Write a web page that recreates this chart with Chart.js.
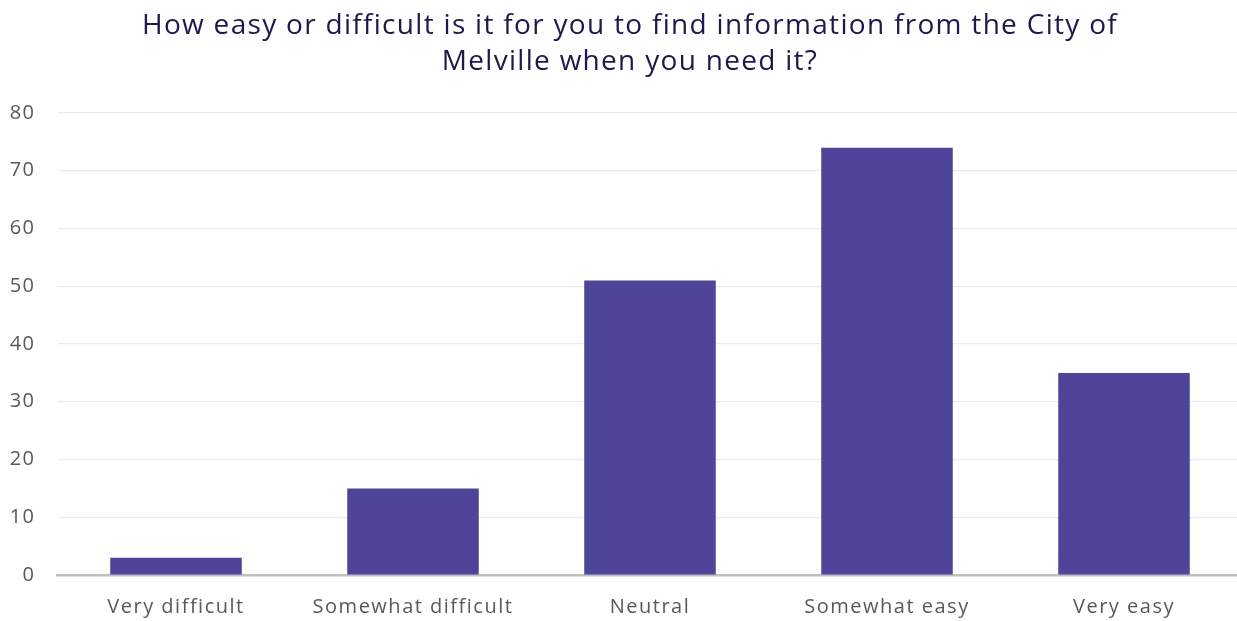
<!DOCTYPE html>
<html>
<head>
<meta charset="utf-8">
<script src="https://cdn.jsdelivr.net/npm/chart.js@4/dist/chart.umd.min.js"></script>
<style>
  html, body { margin: 0; padding: 0; background: #ffffff; overflow: hidden; }
  #wrap { width: 1260px; height: 621px; position: relative; }
</style>
</head>
<body>
<div id="wrap"><canvas id="chart"></canvas></div>
<script>
// Survey responses
const categories = ['Very difficult', 'Somewhat difficult', 'Neutral', 'Somewhat easy', 'Very easy'];
const responses = [3, 15, 51, 74, 35];
const titleLines = ['How easy or difficult is it for you to find information from the City of', 'Melville when you need it?'];

// Slightly open tracking for the axis labels
const trackingPlugin = {
  id: 'tracking',
  beforeDraw(chart) { chart.ctx.letterSpacing = '1.5px'; }
};

// Two-line heading, centred on the canvas
const headingPlugin = {
  id: 'heading',
  afterDraw(chart) {
    const ctx = chart.ctx;
    ctx.save();
    ctx.letterSpacing = '1.3px';
    ctx.fillStyle = '#1b1a4a';
    ctx.font = '28px "Open Sans", sans-serif';
    ctx.textAlign = 'center';
    ctx.textBaseline = 'alphabetic';
    const cx = chart.width / 2;
    titleLines.forEach((line, i) => ctx.fillText(line, cx, 34 + i * 36));
    ctx.restore();
  }
};

new Chart(document.getElementById('chart'), {
  type: 'bar',
  data: {
    labels: categories,
    datasets: [{
      data: responses,
      backgroundColor: '#4e4499',
      borderWidth: 0,
      categoryPercentage: 1.0,
      barPercentage: 0.555
    }]
  },
  options: {
    responsive: true,
    maintainAspectRatio: false,
    animation: false,
    layout: { padding: { top: 113, right: 17.5, bottom: 0, left: 0 } },
    plugins: {
      legend: { display: false },
      title: { display: false },
      tooltip: { enabled: false }
    },
    scales: {
      x: {
        grid: { display: false, drawTicks: false },
        border: { display: true, color: '#bfbfbf', width: 2.5 },
        ticks: {
          color: '#595959',
          font: { family: '"Open Sans", sans-serif', size: 20 },
          padding: 20,
          maxRotation: 0,
          autoSkip: false
        },
        afterFit(axis) { axis.height = 46; }
      },
      y: {
        min: 0,
        max: 80,
        grid: { color: '#ebebeb', lineWidth: 1.2, drawTicks: false },
        border: { display: false },
        ticks: {
          stepSize: 10,
          color: '#595959',
          font: { family: '"Open Sans", sans-serif', size: 20 },
          padding: 22
        },
        afterFit(axis) { axis.width = 57.5; }
      }
    }
  },
  plugins: [trackingPlugin, headingPlugin]
});
</script>
</body>
</html>
